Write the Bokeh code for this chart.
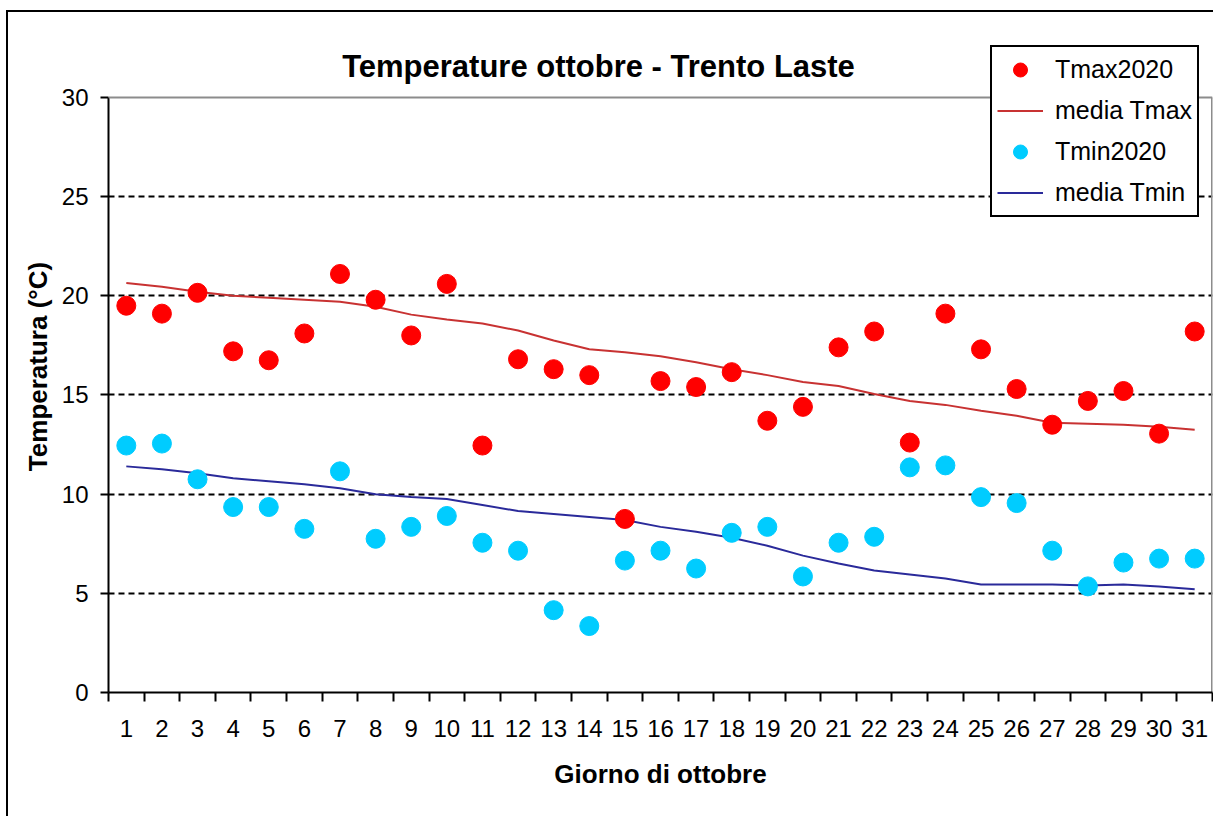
from bokeh.plotting import figure
from bokeh.models import Range1d, FixedTicker, Legend, LegendItem, Span, Label
from bokeh.embed import file_html
from bokeh.resources import INLINE

days = list(range(1, 32))
tmax_2020 = [19.5, 19.1, 20.15, 17.2, 16.75, 18.1, 21.1, 19.8, 18.0, 20.6, 12.45, 16.8, 16.3, 16.0, 8.75,
             15.7, 15.4, 16.15, 13.7, 14.4, 17.4, 18.2, 12.6, 19.1, 17.3, 15.3, 13.5, 14.7, 15.2, 13.05, 18.2]
media_tmax = [20.65, 20.45, 20.2, 20.0, 19.9, 19.8, 19.7, 19.45, 19.05, 18.8, 18.6, 18.25, 17.75, 17.3, 17.15,
              16.95, 16.65, 16.3, 16.0, 15.65, 15.45, 15.05, 14.7, 14.5, 14.2, 13.95, 13.6, 13.55, 13.5, 13.4, 13.25]
tmin_2020 = [12.45, 12.55, 10.75, 9.35, 9.35, 8.25, 11.15, 7.75, 8.35, 8.9, 7.55, 7.15, 4.15, 3.35, 6.65,
             7.15, 6.25, 8.05, 8.35, 5.85, 7.55, 7.85, 11.35, 11.45, 9.85, 9.55, 7.15, 5.35, 6.55, 6.75, 6.75]
media_tmin = [11.4, 11.25, 11.05, 10.8, 10.65, 10.5, 10.3, 10.0, 9.85, 9.75, 9.45, 9.15, 9.0, 8.85, 8.7,
              8.35, 8.1, 7.8, 7.4, 6.9, 6.5, 6.15, 5.95, 5.75, 5.45, 5.45, 5.45, 5.4, 5.45, 5.35, 5.2]
y_ticks = [0, 5, 10, 15, 20, 25, 30]
grid_lines = [5, 10, 15, 20, 25]

TITLE = "Temperature ottobre - Trento Laste"
X_LABEL = "Giorno di ottobre"
Y_LABEL = "Temperatura (°C)"
FONT = "Liberation Sans"

X_MIN, X_MAX = 0.5, 31.5
Y_MIN, Y_MAX = 0, 30
Y_VIEW_TOP = 32.87  # extra headroom inside the frame for title and legend

p = figure(width=1207, height=806, output_backend="svg", toolbar_location=None,
           x_range=Range1d(X_MIN, X_MAX), y_range=Range1d(Y_MIN, Y_VIEW_TOP),
           min_border_left=100, min_border_right=3, min_border_top=28, min_border_bottom=126)
p.margin = (10, 0, 0, 6)
p.styles = {"border-left": "2px solid black", "border-top": "2px solid black"}

p.outline_line_color = None
p.background_fill_color = "white"
p.border_fill_color = "white"

# axes
xa = p.xaxis[0]
xa.ticker = FixedTicker(ticks=days, minor_ticks=[d - 0.5 for d in days] + [X_MAX])
xa.major_tick_line_color = None
xa.minor_tick_out = 9
xa.minor_tick_in = 0
xa.minor_tick_line_color = "black"
xa.minor_tick_line_width = 2
xa.axis_line_color = "black"
xa.axis_line_width = 2
xa.major_label_text_font = FONT
xa.major_label_text_font_size = "24px"
xa.major_label_text_color = "black"
xa.major_label_standoff = 18
xa.axis_label = X_LABEL
xa.axis_label_text_font = FONT
xa.axis_label_text_font_size = "26px"
xa.axis_label_text_font_style = "bold"
xa.axis_label_text_color = "black"
xa.axis_label_standoff = 19

ya = p.yaxis[0]
ya.ticker = FixedTicker(ticks=y_ticks, minor_ticks=[])
ya.bounds = (Y_MIN, Y_MAX)
ya.major_tick_out = 8
ya.major_tick_in = 0
ya.major_tick_line_width = 2
ya.axis_line_color = "black"
ya.axis_line_width = 2
ya.major_label_text_font = FONT
ya.major_label_text_font_size = "24px"
ya.major_label_text_color = "black"
ya.major_label_standoff = 12
ya.axis_label = Y_LABEL
ya.axis_label_text_font = FONT
ya.axis_label_text_font_size = "26px"
ya.axis_label_text_font_style = "bold"
ya.axis_label_text_color = "black"
ya.axis_label_standoff = 6

p.xgrid.visible = False
p.ygrid.ticker = FixedTicker(ticks=grid_lines)
p.ygrid.grid_line_color = "black"
p.ygrid.grid_line_width = 2
p.ygrid.grid_line_dash = "6 4"

# plot-area border (top and right, grey)
p.add_layout(Span(location=Y_MAX, dimension="width", line_color="#8c8c8c", line_width=2))
p.segment(x0=[X_MAX], y0=[Y_MIN], x1=[X_MAX], y1=[Y_MAX], line_color="#8c8c8c", line_width=3)

# series
r_mtmax = p.line(days, media_tmax, line_color="#c83232", line_width=2)
r_mtmin = p.line(days, media_tmin, line_color="#2a2a9a", line_width=2)
r_tmax = p.scatter(days, tmax_2020, size=19, marker="circle", fill_color="#ff0000", line_color="#ff0000")
r_tmin = p.scatter(days, tmin_2020, size=19, marker="circle", fill_color="#00ccff", line_color="#00ccff")

# title
p.add_layout(Label(x=490, y=626, x_units="screen", y_units="screen", text=TITLE,
                   text_align="center", text_baseline="middle",
                   text_font=FONT, text_font_size="31px", text_font_style="bold", text_color="black"))

legend = Legend(items=[
    LegendItem(label="Tmax2020", renderers=[r_tmax]),
    LegendItem(label="media Tmax", renderers=[r_mtmax]),
    LegendItem(label="Tmin2020", renderers=[r_tmin]),
    LegendItem(label="media Tmin", renderers=[r_mtmin]),
], location=(882, 475), orientation="vertical",
    label_text_font=FONT, label_text_font_size="25px", label_text_color="black",
    glyph_width=46, glyph_height=35, label_height=35, spacing=6, padding=5, margin=0,
    label_standoff=12,
    border_line_color="black", border_line_width=2, border_line_alpha=1,
    background_fill_color="white", background_fill_alpha=1)
p.add_layout(legend, "center")

open("out.html", "w").write(file_html(p, INLINE))
